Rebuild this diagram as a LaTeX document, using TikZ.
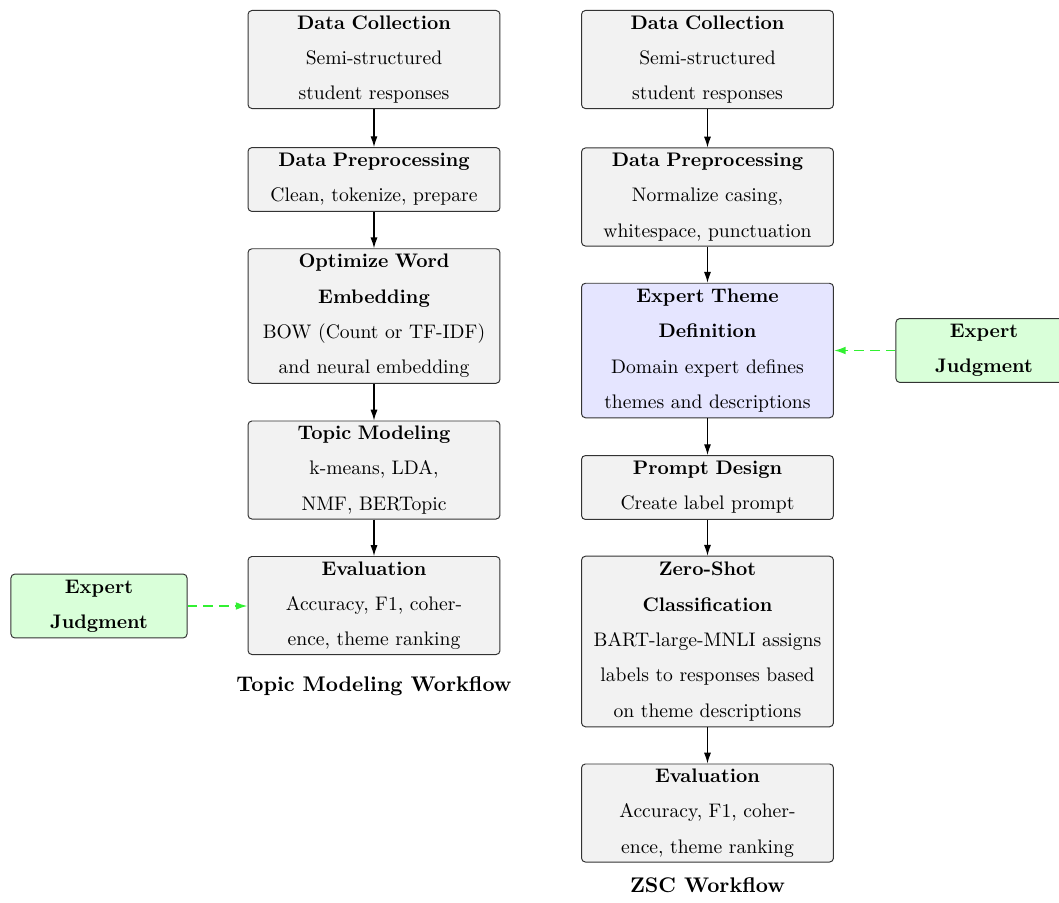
\documentclass[tikz,border=0pt]{standalone}
\usetikzlibrary{arrows.meta}
\definecolor{judgegreen}{RGB}{50,240,50}
\begin{document}
\begin{tikzpicture}[x=0.51pt,y=-0.51pt,
  box/.style={draw=black!80, rounded corners=2pt, fill=gray!10,
    text width=124pt, align=center, inner sep=0pt, minimum width=128.5pt,
    line width=0.5pt, execute at begin node={\setlength{\baselineskip}{18pt}}},
  theme/.style={box, fill=blue!10},
  judge/.style={box, fill=green!15, text width=80pt, minimum width=89.8pt},
  h2/.style={minimum height=32.6pt},
  h3/.style={minimum height=50pt},
  h4/.style={minimum height=68.6pt},
  h5/.style={minimum height=87pt},
  flow/.style={-{Latex[length=5.5pt,width=3.6pt]}, line width=0.6pt},
  expert/.style={-{Latex[length=6pt,width=4pt]}, line width=0.9pt,
    judgegreen, dash pattern=on 5pt off 3pt},
  caption/.style={font=\fontsize{10.8}{13}\selectfont\bfseries}]
\useasboundingbox (0,0) rectangle (1059,902);

% Topic modeling workflow
\node[box,h3] (a1) at (374,59.5) {\textbf{Data Collection}\\Semi-structured\\student responses};
\node[box,h2] (a2) at (374,179.5) {\textbf{Data Preprocessing}\\Clean, tokenize, prepare};
\node[box,h4] (a3) at (374,316) {\textbf{Optimize Word}\\\textbf{Embedding}\\BOW (Count or TF-IDF)\\and neural embedding};
\node[box,h3] (a4) at (374,470) {\textbf{Topic Modeling}\\k-means, LDA,\\NMF, BERTopic};
\node[box,h3] (a5) at (374,605.5) {\textbf{Evaluation}\\Accuracy, F1, coher-\\ence, theme ranking};
\node[judge,h2] (aj) at (99,606) {\textbf{Expert}\\\textbf{Judgment}};
\node[caption] (acap) at (374,686) {Topic Modeling Workflow};

\draw[flow] (a1) -- (a2);
\draw[flow] (a2) -- (a3);
\draw[flow] (a3) -- (a4);
\draw[flow] (a4) -- (a5);
\draw[expert] (aj) -- (aj -| a5.west);

% Zero-shot classification workflow
\node[box,h3] (b1) at (707.5,59.5) {\textbf{Data Collection}\\Semi-structured\\student responses};
\node[box,h3] (b2) at (707.5,197) {\textbf{Data Preprocessing}\\Normalize casing,\\whitespace, punctuation};
\node[theme,h4] (b3) at (707.5,350.5) {\textbf{Expert Theme}\\\textbf{Definition}\\Domain expert defines\\themes and descriptions};
\node[box,h2] (b4) at (707.5,487.5) {\textbf{Prompt Design}\\Create label prompt};
\node[box,h5] (b5) at (707.5,641.5) {\textbf{Zero-Shot}\\\textbf{Classification}\\BART-large-MNLI assigns\\labels to responses based\\on theme descriptions};
\node[box,h3] (b6) at (707.5,813) {\textbf{Evaluation}\\Accuracy, F1, coher-\\ence, theme ranking};
\node[judge,h2] (bj) at (984,350.5) {\textbf{Expert}\\\textbf{Judgment}};
\node[caption] (bcap) at (707.5,885) {ZSC Workflow};

\draw[flow] (b1) -- (b2);
\draw[flow] (b2) -- (b3);
\draw[flow] (b3) -- (b4);
\draw[flow] (b4) -- (b5);
\draw[flow] (b5) -- (b6);
\draw[expert] (bj) -- (bj -| b3.east);
\end{tikzpicture}
\end{document}
